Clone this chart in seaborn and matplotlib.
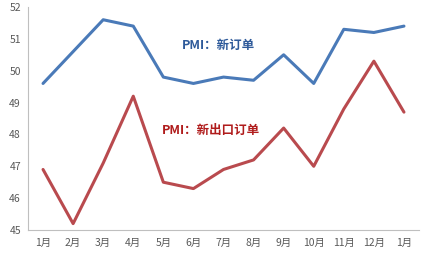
import matplotlib
matplotlib.use("Agg")
import matplotlib.pyplot as plt
import seaborn as sns
import pandas as pd

months = ["1月", "2月", "3月", "4月", "5月", "6月", "7月", "8月", "9月", "10月", "11月", "12月", "1月"]
new_orders = [49.6, 50.6, 51.6, 51.4, 49.8, 49.6, 49.8, 49.7, 50.5, 49.6, 51.3, 51.2, 51.4]
export_orders = [46.9, 45.2, 47.1, 49.2, 46.5, 46.3, 46.9, 47.2, 48.2, 47.0, 48.8, 50.3, 48.7]
label_new = "PMI：新订单"
label_export = "PMI：新出口订单"

sns.set_style("white")
plt.rcParams['font.family'] = ['Noto Sans CJK SC', 'DejaVu Sans']

df = pd.DataFrame({"idx": range(len(months)), "new": new_orders, "exp": export_orders})

fig = plt.figure(figsize=(4.28, 2.57), dpi=100)
ax = fig.add_axes([28/428, 1-230/257, (419-28)/428, (230-7)/257])
sns.lineplot(data=df, x="idx", y="new", ax=ax, color="#4a7ab8", linewidth=2.2)
sns.lineplot(data=df, x="idx", y="exp", ax=ax, color="#b94a4e", linewidth=2.2)

ax.set_xlim(-0.5, len(months) - 0.5)
ax.set_ylim(45, 52)
ax.set_yticks(range(45, 53))
ax.set_yticklabels([str(v) for v in range(45, 53)], fontsize=7.5, color="#595959")
ax.set_xticks(range(len(months)))
ax.set_xticklabels(months, fontsize=7.5, color="#595959")
ax.set_xticks([i - 0.5 for i in range(len(months) + 1)], minor=True)
ax.tick_params(axis="x", which="major", length=0, pad=6)
ax.tick_params(axis="x", which="minor", length=3, color="#bfbfbf", direction="out")
ax.tick_params(axis="y", length=3, color="#bfbfbf", direction="out", pad=2)
ax.set_xlabel("")
ax.set_ylabel("")
for s in ["top", "right"]:
    ax.spines[s].set_visible(False)
for s in ["left", "bottom"]:
    ax.spines[s].set_color("#bfbfbf")
    ax.spines[s].set_linewidth(0.8)

ax.text(218/428, 1-45/257, label_new, transform=fig.transFigure, ha="center", va="center",
        fontsize=9, fontweight="bold", color="#2e5a9a")
ax.text(211/428, 1-130/257, label_export, transform=fig.transFigure, ha="center", va="center",
        fontsize=9, fontweight="bold", color="#b01c1c")

fig.savefig("out.png", dpi=100)
